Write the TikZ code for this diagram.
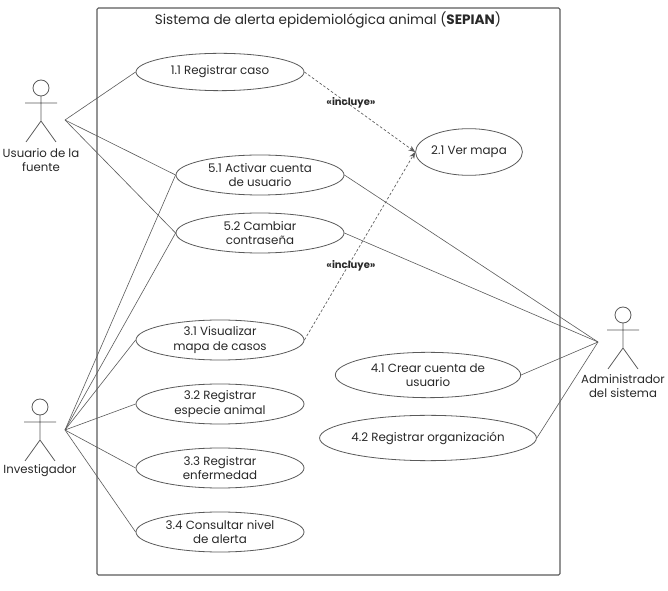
\documentclass[tikz,border=0pt]{standalone}
\usepackage{fontspec}
\setmainfont{Poppins}
\usetikzlibrary{shapes.geometric,arrows.meta}
\definecolor{ln}{RGB}{90,90,90}
\definecolor{tx}{RGB}{40,40,40}
\tikzset{
  uc/.style={ellipse,draw=ln,line width=0.6pt,minimum width=126pt,minimum height=30pt,inner sep=0pt,align=center,font=\fontsize{8.9}{11}\selectfont,text=tx},
  assoc/.style={draw=ln,line width=0.45pt},
  incl/.style={draw=ln,line width=0.5pt,dash pattern=on 2pt off 1.5pt,-{Stealth[length=5pt,width=4pt]}},
  incllab/.style={font=\bfseries\fontsize{7.5}{9}\selectfont,text=tx},
  actorlab/.style={align=center,font=\fontsize{8.8}{10.8}\selectfont,text=tx,inner sep=0pt},
  actor/.pic={
    \draw[ln,line width=0.6pt] (0,0) circle[radius=6pt];
    \draw[ln,line width=0.6pt] (0,8)--(0,33) (-16,15)--(16,15) (0,33)--(-15,54) (0,33)--(15,54);
  }
}
\begin{document}
\begin{tikzpicture}[x=0.75pt,y=-0.75pt]
\useasboundingbox (0,0) rectangle (668,591);
% system frame
\draw[ln,line width=0.8pt,rounded corners=1pt] (97,8) rectangle (560,575);
\node[font=\fontsize{10.2}{12}\selectfont,text=tx] (title) at (328,20) {Sistema de alerta epidemiológica animal (\textbf{SEPIAN})};
% actors
\pic at (41,88) {actor};
\node[actorlab] (usuarioL) at (41,160) {Usuario de la\\fuente};
\coordinate (usuario) at (65,120);
\pic at (40,407) {actor};
\node[actorlab] (invL) at (40,471) {Investigador};
\coordinate (inv) at (65,430);
\pic at (623,315) {actor};
\node[actorlab] (adminL) at (623,386) {Administrador\\del sistema};
\coordinate (admin) at (598,342);
% use cases
\node[uc,minimum height=28pt] (c11) at (220,72) {1.1 Registrar caso};
\node[uc,minimum width=78pt,minimum height=35pt] (c21) at (469,152) {2.1 Ver mapa};
\node[uc] (c51) at (260,175) {5.1 Activar cuenta\\de usuario};
\node[uc] (c52) at (260,233) {5.2 Cambiar\\contraseña};
\node[uc] (c31) at (220,340) {3.1 Visualizar\\mapa de casos};
\node[uc] (c32) at (220,404) {3.2 Registrar\\especie animal};
\node[uc] (c33) at (220,468) {3.3 Registrar\\enfermedad};
\node[uc] (c34) at (220,532) {3.4 Consultar nivel\\de alerta};
\node[uc,minimum width=139pt,minimum height=34pt] (c41) at (428,375) {4.1 Crear cuenta de\\usuario};
\node[uc,minimum width=139pt,minimum height=34pt] (c42) at (428,438) {4.2 Registrar organización};
% associations
\draw[assoc] (usuario) -- (c11.west);
\draw[assoc] (usuario) -- (c51.west);
\draw[assoc] (usuario) -- (c52.west);
\draw[assoc] (inv) -- (c51.west);
\draw[assoc] (inv) -- (c52.west);
\draw[assoc] (inv) -- (c31.west);
\draw[assoc] (inv) -- (c32.west);
\draw[assoc] (inv) -- (c33.west);
\draw[assoc] (inv) -- (c34.west);
\draw[assoc] (admin) -- (c51.east);
\draw[assoc] (admin) -- (c52.east);
\draw[assoc] (admin) -- (c41.east);
\draw[assoc] (admin) -- (c42.east);
% includes
\draw[incl] (c11.east) -- (c21.west);
\draw[incl] (c31.east) -- (c21.west);
\node[incllab] (inc1) at (351,103) {«incluye»};
\node[incllab] (inc2) at (351,266) {«incluye»};
\end{tikzpicture}
\end{document}
